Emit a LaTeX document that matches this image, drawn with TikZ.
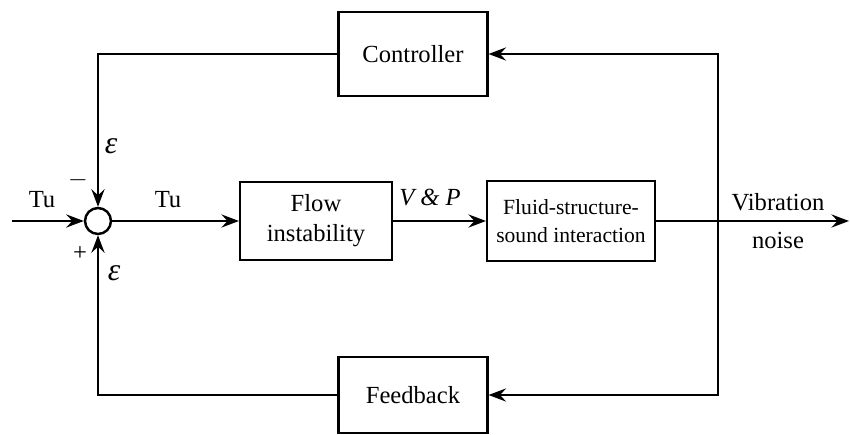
\documentclass[tikz,border=0pt]{standalone}
\usepackage{fontspec}
\setmainfont{Liberation Serif}
\usetikzlibrary{arrows.meta, positioning}
\tikzset{
  block/.style={rectangle, draw, line width=1.2pt, align=center,
    font=\fontsize{14}{17}\selectfont, inner sep=2pt},
  sumnode/.style={circle, draw, line width=1.4pt, minimum size=0.52cm, inner sep=0pt},
  arrow/.style={-{Stealth[length=10pt, width=7.5pt, inset=3.5pt]}, line width=1.2pt},
  line/.style={line width=1.2pt},
  lbl/.style={font=\fontsize{14}{17}\selectfont, inner sep=0pt},
  epslbl/.style={font=\fontsize{18}{20}\selectfont\itshape, inner sep=0pt}
}

\begin{document}
\begin{tikzpicture}[x=0.02cm, y=-0.02cm]
  \useasboundingbox (0,0) rectangle (850,435);
  % blocks
  \node[sumnode] (sum) at (98,221) {};
  \node[block, minimum width=3.04cm, minimum height=1.56cm] (flow) at (316,221) {Flow\\instability};
  \node[block, minimum width=3.36cm, minimum height=1.6cm,
    font=\fontsize{12.3}{16}\selectfont] (fsi) at (571,221) {Fluid-structure-\\sound interaction};
  \node[block, minimum width=2.98cm, minimum height=1.68cm] (ctrl) at (413,54) {Controller};
  \node[block, minimum width=2.98cm, minimum height=1.52cm] (fb) at (413,395) {Feedback};
  \coordinate (in) at (12,221);
  \coordinate (tap) at (718,221);
  \coordinate (out) at (849,221);
  % connectors
  \draw[arrow] (in) -- (sum);
  \draw[arrow] (sum) -- (flow);
  \draw[arrow] (flow) -- (fsi);
  \draw[line] (fsi) -- (tap);
  \draw[arrow] (tap) -- (out);
  \draw[arrow] (tap) |- (ctrl);
  \draw[arrow] (tap) |- (fb);
  \draw[arrow] (ctrl) -| (sum);
  \draw[arrow] (fb) -| (sum);
  % labels
  \node[lbl] (tuin) at (42,200) {Tu};
  \node[lbl] (tuout) at (168,200) {Tu};
  \node[lbl] (vp) at (430,198) {\textit{V \& P}};
  \node[lbl] (vib) at (778,202) {Vibration};
  \node[lbl] (noise) at (778,240) {noise};
  \node[epslbl] (epsup) at (111,146) {ε};
  \node[lbl] (minus) at (78,180) {$-$};
  \node[lbl] (plus) at (80,254) {+};
  \node[epslbl] (epsdn) at (114,273) {ε};
\end{tikzpicture}
\end{document}
